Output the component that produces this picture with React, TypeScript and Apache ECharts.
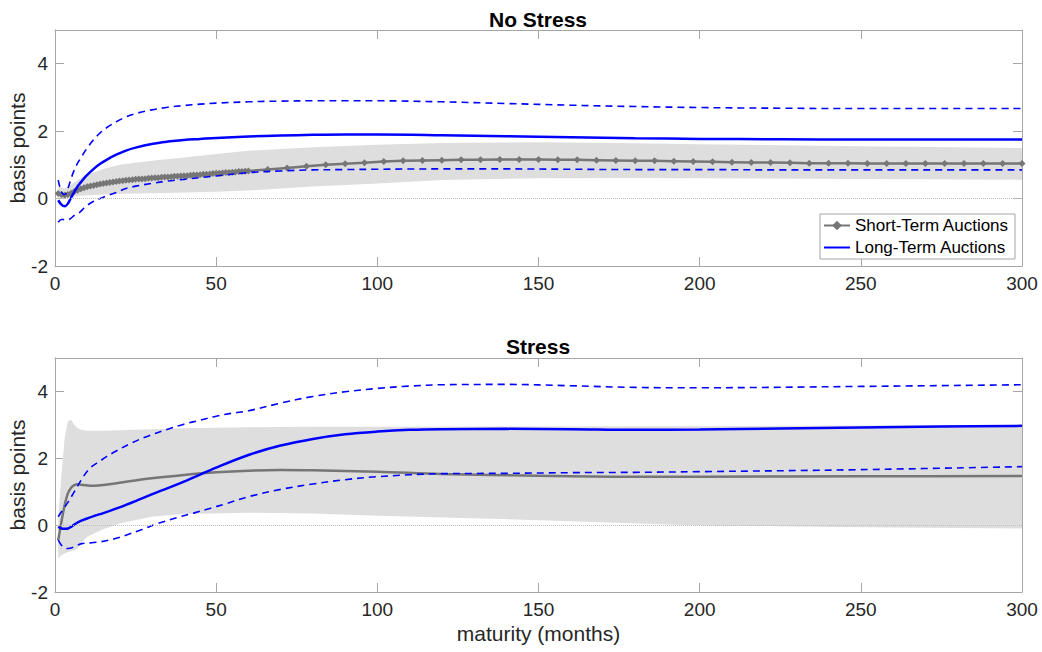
import React, { useEffect, useRef } from "react";
import * as echarts from "echarts";

const FONT = '"Liberation Sans", Arial, Helvetica, sans-serif';

const range = (a: number, b: number, s: number) => {
  const out: number[] = [];
  for (let v = a; v <= b; v += s) out.push(v);
  return out;
};

// ---------- No Stress (top) ----------
const topShortMonths = [...range(1, 60, 1), ...range(66, 300, 6)];
const topShortValues = [
  0.15, 0.12, 0.10, 0.12, 0.16, 0.21, 0.25, 0.29, 0.32, 0.35,
  0.37, 0.39, 0.41, 0.43, 0.45, 0.46, 0.48, 0.49, 0.51, 0.52,
  0.53, 0.54, 0.55, 0.56, 0.57, 0.58, 0.58, 0.59, 0.60, 0.61,
  0.62, 0.62, 0.63, 0.64, 0.64, 0.65, 0.66, 0.66, 0.67, 0.68,
  0.68, 0.69, 0.70, 0.70, 0.71, 0.72, 0.72, 0.73, 0.74, 0.75,
  0.75, 0.76, 0.77, 0.77, 0.78, 0.79, 0.80, 0.80, 0.81, 0.82,
  0.86, 0.91, 0.96, 1.00, 1.03, 1.06, 1.10, 1.12, 1.13, 1.14,
  1.15, 1.15, 1.16, 1.16, 1.16, 1.15, 1.15, 1.14, 1.13, 1.12,
  1.12, 1.11, 1.10, 1.09, 1.08, 1.07, 1.07, 1.06, 1.05, 1.05,
  1.05, 1.04, 1.04, 1.04, 1.04, 1.04, 1.04, 1.04, 1.04, 1.04,
];

const topLongMonths = [1, 2, 3, 4, 5, 6, 7, 8, 9, 10, 12, 14, 16, 19, 22, 25, 30, 35, 40, 45, 50, 60, 70, 80, 90, 100, 120, 140, 160, 180, 200, 225, 250, 275, 300];
const topLongValues = [-0.05, -0.18, -0.23, -0.15, 0.03, 0.2, 0.36, 0.48, 0.6, 0.7, 0.88, 1.03, 1.15, 1.3, 1.42, 1.51, 1.62, 1.69, 1.74, 1.77, 1.8, 1.84, 1.87, 1.89, 1.9, 1.9, 1.88, 1.85, 1.82, 1.79, 1.77, 1.76, 1.75, 1.75, 1.75];
const topLongUpper = [0.55, 0.2, 0.12, 0.3, 0.6, 0.85, 1.05, 1.2, 1.36, 1.5, 1.75, 1.95, 2.1, 2.28, 2.42, 2.52, 2.63, 2.71, 2.76, 2.8, 2.83, 2.87, 2.89, 2.9, 2.9, 2.9, 2.87, 2.82, 2.77, 2.73, 2.7, 2.68, 2.67, 2.67, 2.67];
const topLongLower = [-0.7, -0.62, -0.62, -0.63, -0.58, -0.5, -0.45, -0.38, -0.28, -0.2, -0.08, 0.0, 0.08, 0.18, 0.3, 0.37, 0.45, 0.52, 0.57, 0.62, 0.67, 0.77, 0.82, 0.85, 0.86, 0.87, 0.88, 0.88, 0.87, 0.86, 0.86, 0.85, 0.85, 0.85, 0.85];

const topBandMonths = [1, 3, 5, 8, 10, 15, 20, 30, 40, 50, 60, 80, 100, 120, 150, 180, 200, 250, 300];
const topBandUpper = [0.35, 0.3, 0.42, 0.6, 0.7, 0.88, 1.0, 1.12, 1.22, 1.32, 1.42, 1.52, 1.6, 1.65, 1.67, 1.64, 1.61, 1.55, 1.5];
const topBandLower = [0.0, 0.0, 0.05, 0.08, 0.1, 0.12, 0.14, 0.16, 0.18, 0.2, 0.24, 0.36, 0.45, 0.55, 0.6, 0.61, 0.6, 0.58, 0.56];

// ---------- Stress (bottom) ----------
const botShortMonths = [1, 2, 3, 4, 5, 6, 7, 8, 10, 12, 15, 20, 30, 40, 50, 60, 70, 80, 100, 120, 150, 180, 200, 250, 300];
const botShortValues = [-0.45, 0.1, 0.6, 0.95, 1.12, 1.2, 1.22, 1.21, 1.19, 1.18, 1.2, 1.27, 1.4, 1.5, 1.58, 1.63, 1.65, 1.64, 1.6, 1.53, 1.48, 1.45, 1.45, 1.46, 1.47];

const botLongMonths = [1, 2, 3, 4, 5, 6, 7, 8, 10, 12, 15, 20, 25, 30, 40, 50, 60, 70, 80, 90, 100, 110, 120, 140, 160, 180, 200, 225, 250, 275, 300];
const botLongValues = [-0.05, -0.1, -0.11, -0.1, -0.05, 0.02, 0.08, 0.13, 0.2, 0.27, 0.36, 0.53, 0.72, 0.92, 1.3, 1.72, 2.1, 2.38, 2.58, 2.72, 2.8, 2.85, 2.87, 2.88, 2.87, 2.85, 2.86, 2.89, 2.92, 2.95, 2.97];

const botUpperMonths = [1, 2, 4, 6, 9, 11, 14, 16, 19, 24, 29, 35, 40, 45, 50, 55, 60, 70, 80, 90, 100, 110, 120, 140, 160, 180, 200, 250, 300];
const botUpperValues = [0.25, 0.4, 0.68, 1.0, 1.48, 1.72, 1.92, 2.05, 2.22, 2.47, 2.67, 2.87, 3.02, 3.14, 3.26, 3.35, 3.42, 3.65, 3.85, 3.99, 4.09, 4.16, 4.2, 4.21, 4.17, 4.12, 4.11, 4.15, 4.2];

const botLowerMonths = [1, 2, 3, 4, 6, 8, 11, 14, 18, 22, 27, 32, 38, 43, 48, 53, 60, 70, 80, 90, 100, 120, 140, 160, 180, 200, 250, 300];
const botLowerValues = [-0.45, -0.6, -0.68, -0.7, -0.65, -0.56, -0.53, -0.5, -0.42, -0.3, -0.13, 0.05, 0.23, 0.36, 0.5, 0.64, 0.85, 1.07, 1.23, 1.36, 1.45, 1.54, 1.55, 1.57, 1.58, 1.6, 1.66, 1.75];

const botBandMonths = [1, 2, 3, 4, 5, 6, 7, 8, 10, 15, 20, 30, 40, 60, 80, 100, 150, 200, 250, 300];
const botBandUpper = [0.2, 1.5, 2.6, 3.1, 3.15, 3.0, 2.9, 2.85, 2.82, 2.82, 2.84, 2.87, 2.9, 2.93, 2.94, 2.94, 2.95, 2.96, 2.98, 3.0];
const botBandLower = [-1.0, -0.9, -0.85, -0.8, -0.78, -0.75, -0.7, -0.55, -0.35, -0.12, 0.05, 0.25, 0.33, 0.37, 0.35, 0.28, 0.15, -0.01, -0.06, -0.1];

const xTicks = { min: 0, max: 300, interval: 50 };
const yTicks = { min: -2, max: 5, interval: 2 };

const GRAY = "#767676";
const BLUE = "#0000ff";
const BAND = "#dedede";
const AXIS = "#a6a6a6";
const LABEL = "#262626";

const pairs = (xs: number[], ys: number[]) => xs.map((x, i) => [x, ys[i]]);

function bandSeries(xs: number[], lo: number[], hi: number[], xi: number, yi: number) {
  return {
    type: "custom",
    xAxisIndex: xi,
    yAxisIndex: yi,
    silent: true,
    z: 1,
    clip: true,
    data: xs.map((x, i) => [x, lo[i], hi[i]]),
    encode: { x: 0, y: [1, 2] },
    renderItem: (params: any, api: any) => {
      if (params.dataIndex !== 0) return null;
      const pts: number[][] = [];
      for (let i = 0; i < xs.length; i++) pts.push(api.coord([xs[i], hi[i]]));
      for (let i = xs.length - 1; i >= 0; i--) pts.push(api.coord([xs[i], lo[i]]));
      return {
        type: "polygon",
        shape: { points: pts },
        style: { fill: BAND, stroke: null },
      };
    },
  };
}

function lineSeries(name: string, xs: number[], ys: number[], xi: number, yi: number, color: string, width: number, dashed: boolean) {
  return {
    type: "line",
    name,
    xAxisIndex: xi,
    yAxisIndex: yi,
    data: pairs(xs, ys),
    symbol: "none",
    showSymbol: false,
    smooth: 0.35,
    lineStyle: { color, width, type: dashed ? [7, 5] : "solid" },
    itemStyle: { color },
    silent: true,
    z: 3,
  };
}

const zeroLine = {
  silent: true,
  symbol: ["none", "none"],
  label: { show: false },
  lineStyle: { type: "dotted", color: "#bdbdbd", width: 1 },
  data: [{ yAxis: 0 }],
};

function xAxis(gridIndex: number, position: string, labels: boolean, name?: string) {
  return {
    type: "value",
    gridIndex,
    position,
    ...xTicks,
    name: name || "",
    nameLocation: "middle",
    nameGap: 31,
    nameMoveOverlap: false,
    nameTextStyle: { fontSize: 21, color: LABEL, fontFamily: FONT },
    axisLine: { show: true, onZero: false, lineStyle: { color: AXIS, width: 1 } },
    axisTick: { show: true, inside: true, length: 9, lineStyle: { color: AXIS } },
    axisLabel: { show: labels, margin: 8, fontSize: 19, color: LABEL, fontFamily: FONT },
    splitLine: { show: false },
  };
}

function yAxis(gridIndex: number, position: string, labels: boolean) {
  return {
    type: "value",
    gridIndex,
    position,
    ...yTicks,
    name: labels ? "basis points" : "",
    nameLocation: "middle",
    nameGap: 27,
    nameMoveOverlap: false,
    nameTextStyle: { fontSize: 21, color: LABEL, fontFamily: FONT },
    axisLine: { show: true, onZero: false, lineStyle: { color: AXIS, width: 1 } },
    axisTick: { show: true, inside: true, length: 9, lineStyle: { color: AXIS } },
    axisLabel: { show: labels, margin: 7, fontSize: 19, color: LABEL, fontFamily: FONT, showMaxLabel: false },
    splitLine: { show: false },
  };
}

const option: any = {
  animation: false,
  backgroundColor: "#ffffff",
  title: [
    { text: "No Stress", left: 533, top: 4, textAlign: "center", textStyle: { fontSize: 21, fontWeight: "bold", color: "#000", fontFamily: FONT } },
    { text: "Stress", left: 533, top: 331, textAlign: "center", textStyle: { fontSize: 21, fontWeight: "bold", color: "#000", fontFamily: FONT } },
  ],
  grid: [
    { left: 55, right: 20, top: 30, height: 236, outerBoundsMode: "none", containLabel: false },
    { left: 55, right: 20, top: 358, height: 234, outerBoundsMode: "none", containLabel: false },
  ],
  xAxis: [
    xAxis(0, "bottom", true),
    xAxis(0, "top", false),
    xAxis(1, "bottom", true, "maturity (months)"),
    xAxis(1, "top", false),
  ],
  yAxis: [yAxis(0, "left", true), yAxis(0, "right", false), yAxis(1, "left", true), yAxis(1, "right", false)],
  legend: {
    show: true,
    orient: "vertical",
    right: 27,
    top: 214,
    data: [
      { name: "Short-Term Auctions" },
      { name: "Long-Term Auctions", itemStyle: { opacity: 0 } },
    ],
    backgroundColor: "#ffffff",
    borderColor: AXIS,
    borderWidth: 1,
    borderRadius: 0,
    padding: [3, 6, 3, 3],
    itemGap: 5,
    itemWidth: 26,
    itemHeight: 12,
    selectedMode: false,
    textStyle: { fontSize: 17, color: "#000", fontFamily: FONT },
  },
  series: [
    bandSeries(topBandMonths, topBandLower, topBandUpper, 0, 0),
    {
      type: "line",
      name: "Short-Term Auctions",
      xAxisIndex: 0,
      yAxisIndex: 0,
      data: pairs(topShortMonths, topShortValues),
      symbol: "diamond",
      symbolSize: 7,
      showSymbol: true,
      showAllSymbol: true,
      lineStyle: { color: GRAY, width: 2.5 },
      itemStyle: { color: GRAY },
      markLine: zeroLine,
      silent: true,
      z: 2,
    },
    lineSeries("Long-Term Auctions", topLongMonths, topLongValues, 0, 0, BLUE, 2.5, false),
    lineSeries("Long-Term upper (top)", topLongMonths, topLongUpper, 0, 0, BLUE, 1.6, true),
    lineSeries("Long-Term lower (top)", topLongMonths, topLongLower, 0, 0, BLUE, 1.6, true),

    bandSeries(botBandMonths, botBandLower, botBandUpper, 2, 2),
    {
      ...lineSeries("Short-Term Auctions", botShortMonths, botShortValues, 2, 2, GRAY, 2.5, false),
      markLine: zeroLine,
      z: 2,
    },
    lineSeries("Long-Term Auctions", botLongMonths, botLongValues, 2, 2, BLUE, 2.5, false),
    lineSeries("Long-Term upper (bottom)", botUpperMonths, botUpperValues, 2, 2, BLUE, 1.6, true),
    lineSeries("Long-Term lower (bottom)", botLowerMonths, botLowerValues, 2, 2, BLUE, 1.6, true),
  ],
};

export default function App() {
  const ref = useRef<HTMLDivElement>(null);
  useEffect(() => {
    document.body.style.margin = "0";
    const chart = echarts.init(ref.current as HTMLDivElement, null, { renderer: "svg" });
    chart.setOption(option);
    return () => chart.dispose();
  }, []);
  return <div ref={ref} style={{ width: 1042, height: 652 }} />;
}
